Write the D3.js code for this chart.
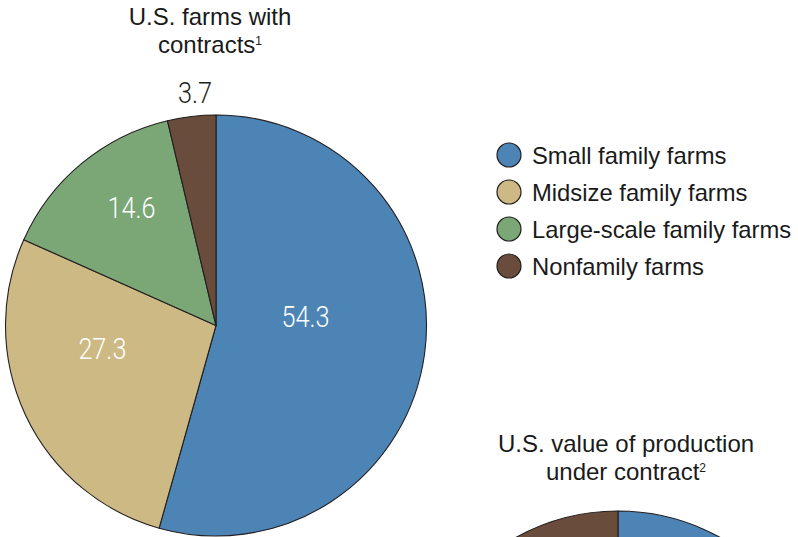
<!DOCTYPE html>
<html>
<head>
<meta charset="utf-8">
<script src="https://cdn.jsdelivr.net/npm/d3@7"></script>
<style>
  html, body { margin: 0; padding: 0; background: #fff; }
  svg { display: block; }
  .title { font-family: "Liberation Sans", Arial, Helvetica, sans-serif; fill: #1a1a1a; }
  .legend text { font-family: "Liberation Sans", Arial, Helvetica, sans-serif; fill: #1a1a1a; }
  .slice-label { font-family: Roboto, "Liberation Sans Narrow", sans-serif; font-weight: 300; }
</style>
</head>
<body>
<svg id="chart" width="798" height="537"></svg>
<script>
// ---- data ----
const categories = ["Small family farms", "Midsize family farms", "Large-scale family farms", "Nonfamily farms"];
const farmsWithContracts = [54.3, 27.3, 14.6, 3.7];           // percent of U.S. farms with contracts
const valueUnderContract = [13.4, 20.8, 49.2, 16.6];           // percent of value of production under contract (only top visible)
const chartTitles = [["U.S. farms with", "contracts", "1"], ["U.S. value of production", "under contract", "2"]];

// ---- style / layout ----
const colors = ["#4d84b6", "#cdb983", "#7ba777", "#6a4c3c"];
const R = 210.5;
const svg = d3.select("#chart");

const color = d3.scaleOrdinal().domain(categories).range(colors);
const pie = d3.pie().sort(null).value(d => d.value);
const arc = d3.arc().innerRadius(0).outerRadius(R);

function drawPie(cx, cy, values, labelPlacement) {
  const data = categories.map((c, i) => ({ cat: c, value: values[i] }));
  const arcs = pie(data);
  const g = svg.append("g").attr("transform", `translate(${cx},${cy})`);
  g.selectAll("path").data(arcs).join("path")
    .attr("d", arc)
    .attr("fill", d => color(d.data.cat))
    .attr("stroke", "#231f20")
    .attr("stroke-width", 1.1)
    .attr("stroke-linejoin", "round");
  if (labelPlacement) {
    g.selectAll("text").data(arcs).join("text")
      .attr("class", "slice-label")
      .attr("transform", (d, i) => {
        const p = labelPlacement[i];
        const mid = (d.startAngle + d.endAngle) / 2 + p.da * Math.PI / 180;
        const [x, y] = d3.pointRadial(mid, p.r);
        return `translate(${x},${y}) scale(0.87,1)`;
      })
      .attr("text-anchor", "middle")
      .attr("dy", "0.36em")
      .attr("font-size", 29)
      .attr("fill", (d, i) => labelPlacement[i].outside ? "#231f20" : "#ffffff")
      .text(d => d3.format(".1f")(d.data.value));
  }
}

function drawTitle(cx, y, lines) {
  const t = svg.append("text").attr("class", "title")
    .attr("x", cx).attr("y", y).attr("text-anchor", "middle").attr("font-size", 24);
  t.append("tspan").attr("x", cx).text(lines[0]);
  t.append("tspan").attr("x", cx).attr("dy", 27.5).text(lines[1]);
  t.append("tspan").attr("font-size", 12).attr("dy", -8).text(lines[2]);
}

// pie 1: farms with contracts
drawTitle(210, 25.3, chartTitles[0]);
drawPie(216, 325.5, farmsWithContracts, [
  { r: 90, da: -13.5 },
  { r: 116, da: 13.5 },
  { r: 145, da: 4 },
  { r: 234, da: 1.5, outside: true }
]);

// pie 2: value of production under contract (cut off at bottom)
drawTitle(626, 452, chartTitles[1]);
drawPie(618, 721.5, valueUnderContract, null);

// legend
const legend = svg.append("g").attr("class", "legend").attr("transform", "translate(509,155)");
const items = legend.selectAll("g").data(categories).join("g")
  .attr("transform", (d, i) => `translate(0,${i * 37})`);
items.append("circle").attr("r", 12).attr("fill", d => color(d))
  .attr("stroke", "#231f20").attr("stroke-width", 1.2);
items.append("text").attr("x", 23).attr("dy", "0.36em").attr("font-size", 23.8).text(d => d);
</script>
</body>
</html>
